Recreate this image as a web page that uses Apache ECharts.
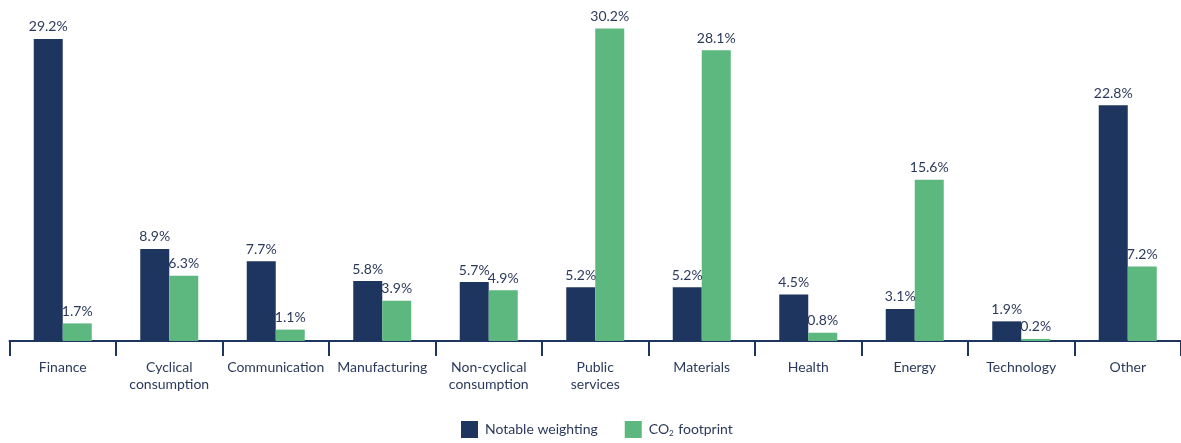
<!DOCTYPE html>
<html>
<head>
<meta charset="utf-8">
<script src="https://cdn.jsdelivr.net/npm/echarts@6/dist/echarts.min.js"></script>
<style>
  html, body { margin: 0; padding: 0; background: #fff; }
  #chart { width: 1181px; height: 443px; }
</style>
</head>
<body>
<div id="chart"></div>
<script>
const sectors = [
  "Finance",
  "Cyclical\nconsumption",
  "Communication",
  "Manufacturing",
  "Non-cyclical\nconsumption",
  "Public\nservices",
  "Materials",
  "Health",
  "Energy",
  "Technology",
  "Other",
];
const notableWeighting = [29.2, 8.9, 7.7, 5.8, 5.7, 5.2, 5.2, 4.5, 3.1, 1.9, 22.8];
const co2Footprint = [1.7, 6.3, 1.1, 3.9, 4.9, 30.2, 28.1, 0.8, 15.6, 0.2, 7.2];

const navy = "#1e3560";
const green = "#5cb87f";
const textColor = "#2b3a5c";
const font = "Lato";

const chart = echarts.init(document.getElementById("chart"));

const labelStyle = {
  show: true,
  position: "top",
  distance: 5,
  color: textColor,
  fontFamily: font,
  fontSize: 14,
  formatter: (p) => p.value.toFixed(1) + "%",
};

chart.setOption({
  animation: false,
  grid: {
    left: 9.5,
    top: 10,
    width: 1175.5,
    height: 331,
  },
  legend: {
    left: 456,
    top: 416,
    itemWidth: 17,
    itemHeight: 17,
    itemGap: 27,
    icon: "rect",
    textStyle: {
      color: textColor,
      fontFamily: font,
      fontSize: 14,
      padding: [0, 0, 0, 2],
      rich: {
        sub: { fontSize: 8, color: textColor, fontFamily: font, padding: [8, 1, 0, 0] },
      },
    },
    formatter: (name) => (name === "CO2 footprint" ? "CO{sub|2} footprint" : name),
    data: ["Notable weighting", "CO2 footprint"],
  },
  xAxis: {
    type: "category",
    data: sectors,
    axisLine: { lineStyle: { color: navy, width: 2 } },
    axisTick: { show: true, interval: 0, length: 15, lineStyle: { color: navy, width: 2 } },
    axisLabel: {
      interval: 0,
      color: textColor,
      fontFamily: font,
      fontSize: 14,
      lineHeight: 17,
      margin: 18,
    },
  },
  yAxis: {
    type: "value",
    min: 0,
    max: 32,
    show: false,
    splitLine: { show: false },
  },
  series: [
    {
      name: "Notable weighting",
      type: "bar",
      data: notableWeighting,
      barWidth: 29,
      barGap: "0%",
      itemStyle: { color: navy },
      label: labelStyle,
    },
    {
      name: "CO2 footprint",
      type: "bar",
      data: co2Footprint,
      barWidth: 29,
      barGap: "0%",
      itemStyle: { color: green },
      label: labelStyle,
    },
  ],
});

window.addEventListener("resize", () => {
  chart.resize();
});
</script>
</body>
</html>
